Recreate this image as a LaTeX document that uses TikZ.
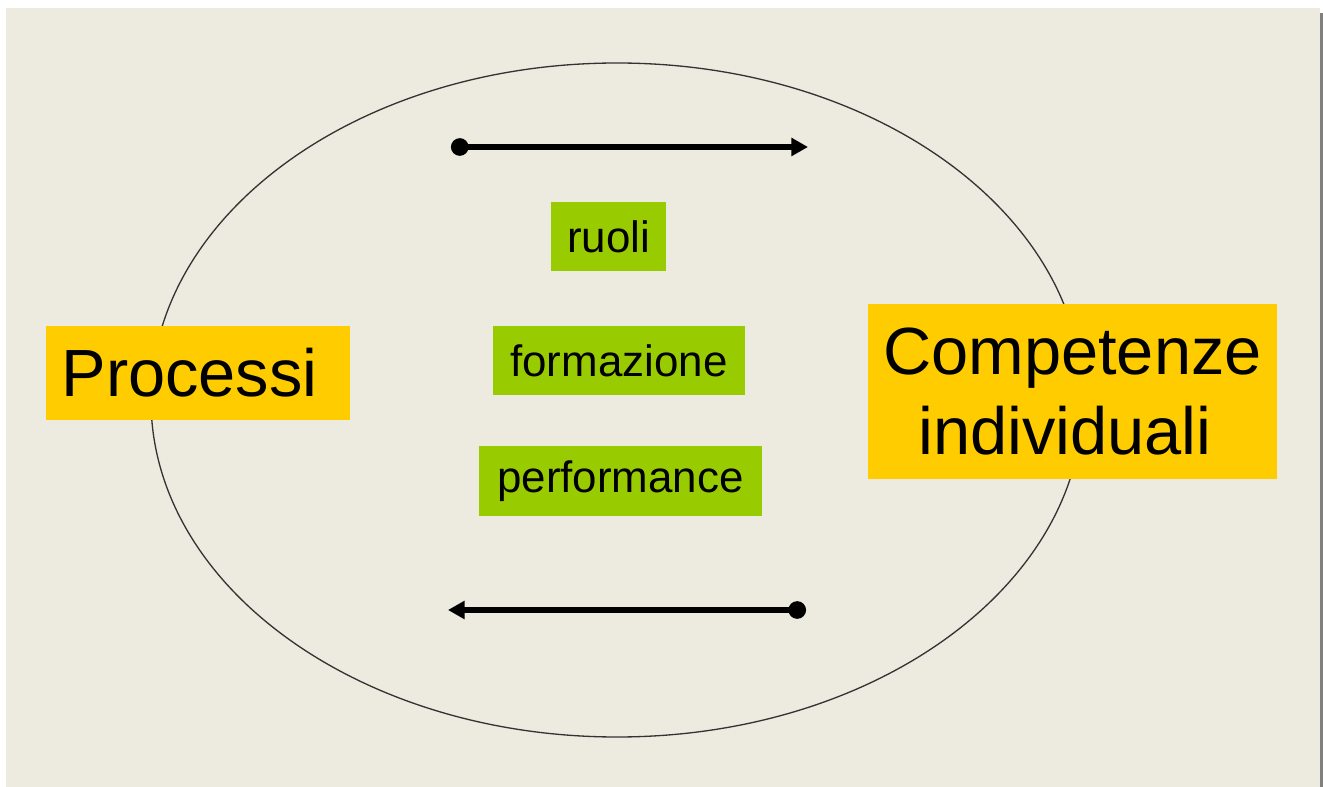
\documentclass[tikz,border=0pt]{standalone}
\usepackage{fontspec}
\setmainfont{Liberation Sans}
\usetikzlibrary{arrows.meta}

\definecolor{sfondo}{HTML}{EDEAE0}
\definecolor{giallo}{HTML}{FFCC00}
\definecolor{verde}{HTML}{99CC00}

\begin{document}
\begin{tikzpicture} [x=0.02cm, y=-0.02cm,
    box/.style={fill=giallo, inner sep=0pt, align=center, font=\fontsize{38}{45}\selectfont},
    tag/.style={fill=verde, inner sep=0pt, minimum height=1.38cm, font=\fontsize{25}{30}\selectfont},
    freccia/.style={line width=3.5pt, {Circle[length=10pt]}-{Triangle[length=9.5pt,width=10pt]}}]
  \useasboundingbox (0,0) rectangle (1323,787);
  % fondo
  \fill [sfondo] (6,8) rectangle (1320,787);
  \fill [gray] (1320,13) rectangle (1323,787);
  \draw [line width=0.75pt, black!80] (617,400) ellipse [x radius=466, y radius=337];
  \path  (198,373)     node[box, minimum width=6.08cm, minimum height=1.88cm](P) {Processi\hspace{9.6pt}}
         (1072.5,391.5) node[box, minimum width=8.18cm, minimum height=3.5cm](C) {Competenze\\individuali\hspace*{8.5pt}}
         (608.5,236.5)  node[tag, minimum width=2.3cm](R) {ruoli}
         (619,360.5)    node[tag, minimum width=5.04cm](F) {formazione}
         (620.5,481)    node[tag, minimum width=5.66cm, minimum height=1.4cm](Pf) {performance};
  \coordinate (A1) at (451,147);
  \coordinate (A2) at (808,147);
  \coordinate (B1) at (806,610);
  \coordinate (B2) at (448,610);
  \draw [freccia] (A1) -- (A2);
  \draw [freccia] (B1) -- (B2);
\end{tikzpicture}
\end{document}
